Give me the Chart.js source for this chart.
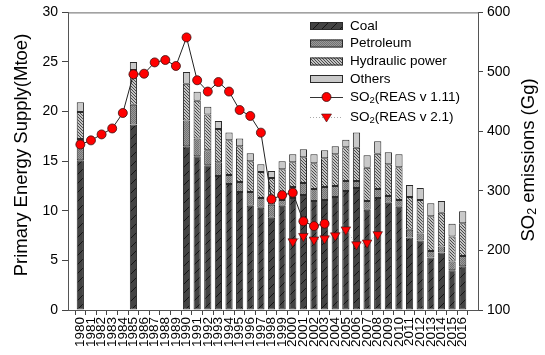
<!DOCTYPE html>
<html>
<head>
<meta charset="utf-8">
<script src="https://cdn.jsdelivr.net/npm/chart.js@4/dist/chart.umd.min.js"></script>
<style>
  html, body { margin: 0; padding: 0; background: #fff; }
  #wrap { width: 545px; height: 355px; }
</style>
</head>
<body>
<div id="wrap"><canvas id="c" width="545" height="355"></canvas></div>
<script>
// Primary energy supply by source (Mtoe) and SO2 emissions (Gg), 1980-2016
const years = [1980,1981,1982,1983,1984,1985,1986,1987,1988,1989,1990,1991,1992,1993,1994,1995,1996,1997,1998,1999,2000,2001,2002,2003,2004,2005,2006,2007,2008,2009,2010,2011,2012,2013,2014,2015,2016];

const coal      = [15.1,null,null,null,null,18.7,null,null,null,null,16.5,15.5,14.6,13.5,12.7,11.9,10.5,10.3,9.3,10.5,11.3,11.6,11.0,11.1,11.4,12.0,12.3,10.1,11.3,10.8,10.4,7.3,7.0,5.3,5.8,4.0,4.4];
const petroleum = [2.15,null,null,null,null,2.0,null,null,null,null,2.6,1.8,1.5,1.4,0.9,1.0,1.4,1.0,1.3,0.6,1.1,1.2,1.2,1.3,1.1,1.0,0.7,0.9,0.9,0.7,0.7,0.8,0.7,0.65,0.6,0.9,1.05];
const hydraulic = [2.7,null,null,null,null,3.5,null,null,null,null,3.7,3.8,3.6,3.35,3.5,3.6,3.1,2.6,2.7,3.1,2.5,2.6,2.6,2.9,3.2,3.4,3.35,3.35,3.55,3.2,3.3,3.3,3.4,3.5,3.4,2.5,3.3];
const others    = [1.0,null,null,null,null,0.8,null,null,null,null,1.2,0.9,0.8,0.8,0.8,0.8,0.8,0.8,0.7,0.8,0.8,0.8,0.9,0.8,0.8,0.75,1.55,1.25,1.25,1.2,1.3,1.2,1.2,1.3,1.2,1.3,1.2];

const so2Years111 = [1980,1981,1982,1983,1984,1985,1986,1987,1988,1989,1990,1991,1992,1993,1994,1995,1996,1997,1998,1999,2000,2001,2002,2003];
const so2Reas111  = [378,385,395,405,431,496,497,516,520,510,558,486,467,483,467,436,426,398,286,293,297,249,241,245];

const so2Years21 = [2000,2001,2002,2003,2004,2005,2006,2007,2008];
const so2Reas21  = [215,224,218,220,225,235,210,213,227];

const leftTicks  = [0,5,10,15,20,25,30];
const rightTicks = [100,200,300,400,500,600];

const FONT = '"Liberation Sans", Arial, sans-serif';

// ---- fill patterns for the energy sources ----
function makePattern(size, draw) {
  const cv = document.createElement('canvas');
  cv.width = size; cv.height = size;
  const g = cv.getContext('2d');
  draw(g, size);
  return g.createPattern(cv, 'repeat');
}
const ctxMain = document.getElementById('c').getContext('2d');
const coalFill = makePattern(9, (g, s) => {
  g.fillStyle = '#434343'; g.fillRect(0, 0, s, s);
  g.strokeStyle = '#141414'; g.lineWidth = 1;
  g.beginPath(); g.moveTo(0, s); g.lineTo(s, 0); g.stroke();
});
const petroFill = makePattern(2, (g, s) => {
  g.fillStyle = '#9a9a9a'; g.fillRect(0, 0, s, s);
  g.fillStyle = '#727272'; g.fillRect(0, 0, 1, 1); g.fillRect(1, 1, 1, 1);
});
const hydroFill = makePattern(3, (g, s) => {
  g.fillStyle = '#c4c4c4'; g.fillRect(0, 0, s, s);
  g.fillStyle = '#4a4a4a';
  for (let i = 0; i < s; i++) g.fillRect(i, i, 1, 1);
});
const othersFill = '#c9c9c9';

const toPoints = (xs, ys) => xs.map((x, i) => ({ x: x, y: ys[i] }));

function barSet(label, values, fill) {
  return {
    type: 'bar', label: label,
    data: toPoints(years, values),
    backgroundColor: fill,
    borderColor: '#2a2a2a', borderWidth: 1, borderSkipped: false,
    barPercentage: 0.68, categoryPercentage: 1,
    yAxisID: 'y', order: 2
  };
}

// ---- axis titles, top frame line and legend ----
const decorations = {
  id: 'decorations',
  afterDraw(chart) {
    const c = chart.ctx;
    const a = chart.chartArea;
    c.save();
    // frame line along the top
    c.strokeStyle = '#666'; c.lineWidth = 1;
    c.beginPath(); c.moveTo(a.left, a.top + 0.5); c.lineTo(a.right, a.top + 0.5); c.stroke();

    // left title
    c.fillStyle = '#000';
    c.font = '18.5px ' + FONT;
    c.textAlign = 'center'; c.textBaseline = 'middle';
    c.save(); c.translate(22, 155); c.rotate(-Math.PI / 2);
    c.fillText('Primary Energy Supply(Mtoe)', 0, 0);
    c.restore();

    // right title with subscript
    c.save(); c.translate(529, 160); c.rotate(-Math.PI / 2);
    drawSub(c, 'SO', '2', ' emissions (Gg)', 18.5, 12.5, 4, 'center');
    c.restore();

    // legend
    const sx = 310, sw = 33, tx = 350;
    const rows = [
      { y: 26, kind: 'box', fill: coalFill, text: 'Coal' },
      { y: 43.5, kind: 'box', fill: petroFill, text: 'Petroleum' },
      { y: 61.5, kind: 'box', fill: hydroFill, text: 'Hydraulic power' },
      { y: 79, kind: 'box', fill: othersFill, text: 'Others' },
      { y: 97, kind: 'circle', ver: '(REAS v 1.11)' },
      { y: 117, kind: 'tri', ver: '(REAS v 2.1)' }
    ];
    c.textAlign = 'left'; c.textBaseline = 'middle';
    rows.forEach(r => {
      if (r.kind === 'box') {
        c.fillStyle = r.fill;
        c.fillRect(sx, r.y - 4, sw, 8);
        c.strokeStyle = '#2a2a2a'; c.lineWidth = 1;
        c.strokeRect(sx + 0.5, r.y - 3.5, sw - 1, 7);
        c.fillStyle = '#000';
        c.font = '13.5px ' + FONT;
        c.fillText(r.text, tx, r.y);
      } else if (r.kind === 'circle') {
        c.strokeStyle = '#333'; c.lineWidth = 1;
        c.beginPath(); c.moveTo(sx, r.y + 0.5); c.lineTo(sx + sw, r.y + 0.5); c.stroke();
        c.fillStyle = '#ff0000'; c.strokeStyle = '#3a1010'; c.lineWidth = 0.8;
        c.beginPath(); c.arc(sx + sw / 2, r.y, 4.5, 0, Math.PI * 2); c.fill(); c.stroke();
        c.fillStyle = '#000';
        drawSub(c, 'SO', '2', r.ver, 13.5, 9.5, 3, 'left', tx, r.y);
      } else {
        c.strokeStyle = '#aaa'; c.lineWidth = 1; c.setLineDash([1, 2]);
        c.beginPath(); c.moveTo(sx, r.y + 0.5); c.lineTo(sx + sw, r.y + 0.5); c.stroke();
        c.setLineDash([]);
        const cx = sx + sw / 2, cy = r.y;
        c.fillStyle = '#ff0000'; c.strokeStyle = '#3a1010'; c.lineWidth = 0.6;
        c.beginPath(); c.moveTo(cx - 5, cy - 3); c.lineTo(cx + 5, cy - 3); c.lineTo(cx, cy + 5); c.closePath();
        c.fill(); c.stroke();
        c.fillStyle = '#000';
        drawSub(c, 'SO', '2', r.ver, 13.5, 9.5, 3, 'left', tx, r.y);
      }
    });
    c.restore();
  }
};

// text with a subscript part
function drawSub(c, a, sub, b, size, subSize, drop, align, x0, y0) {
  x0 = x0 || 0; y0 = y0 || 0;
  c.font = size + 'px ' + FONT;
  const wa = c.measureText(a).width, wb = c.measureText(b).width;
  c.font = subSize + 'px ' + FONT;
  const ws = c.measureText(sub).width;
  const total = wa + ws + wb;
  let x = align === 'center' ? x0 - total / 2 : x0;
  c.textAlign = 'left'; c.textBaseline = 'middle';
  c.font = size + 'px ' + FONT; c.fillText(a, x, y0); x += wa;
  c.font = subSize + 'px ' + FONT; c.fillText(sub, x, y0 + drop); x += ws;
  c.font = size + 'px ' + FONT; c.fillText(b, x, y0);
}

new Chart(ctxMain, {
  data: {
    datasets: [
      barSet('Coal', coal, coalFill),
      barSet('Petroleum', petroleum, petroFill),
      barSet('Hydraulic power', hydraulic, hydroFill),
      barSet('Others', others, othersFill),
      {
        type: 'line', label: 'SO2(REAS v 1.11)',
        data: toPoints(so2Years111, so2Reas111),
        borderColor: '#222', borderWidth: 1,
        pointRadius: 4.5, pointBackgroundColor: '#ff0000',
        pointBorderColor: '#3a1010', pointBorderWidth: 0.8,
        yAxisID: 'y2', order: 0
      },
      {
        type: 'line', label: 'SO2(REAS v 2.1)',
        data: toPoints(so2Years21, so2Reas21),
        borderColor: '#aaa', borderWidth: 1, borderDash: [1, 2],
        pointStyle: 'triangle', rotation: 180,
        pointRadius: 5.5, pointBackgroundColor: '#ff0000',
        pointBorderColor: '#3a1010', pointBorderWidth: 0.6,
        yAxisID: 'y2', order: 1
      }
    ]
  },
  options: {
    responsive: false,
    animation: false,
    layout: { padding: { top: 11, left: 0, right: 0, bottom: 0 } },
    plugins: { legend: { display: false }, tooltip: { enabled: false }, title: { display: false } },
    scales: {
      x: {
        type: 'linear', stacked: true,
        min: 1979.36, max: 2016.92,
        afterBuildTicks: s => { s.ticks = years.map(v => ({ value: v })); },
        afterFit: s => { s.height = 45; },
        grid: { display: true, drawOnChartArea: false, drawTicks: true, tickLength: 5, color: '#444' },
        border: { display: true, color: '#555', width: 1 },
        ticks: {
          autoSkip: false, minRotation: 90, maxRotation: 90,
          padding: 2, color: '#000',
          font: { family: FONT, size: 13.5 },
          callback: v => String(v)
        }
      },
      y: {
        position: 'left', stacked: true,
        min: 0, max: 30,
        afterBuildTicks: s => { s.ticks = leftTicks.map(v => ({ value: v })); },
        afterFit: s => { s.width = 68; },
        grid: { display: true, drawOnChartArea: false, drawTicks: true, tickLength: 6, color: '#444' },
        border: { display: true, color: '#555', width: 1 },
        ticks: { padding: 4, color: '#000', font: { family: FONT, size: 14 } }
      },
      y2: {
        position: 'right', stacked: false,
        min: 100, max: 600,
        afterBuildTicks: s => { s.ticks = rightTicks.map(v => ({ value: v })); },
        afterFit: s => { s.width = 67; },
        grid: { display: true, drawOnChartArea: false, drawTicks: true, tickLength: 5, color: '#444' },
        border: { display: true, color: '#555', width: 1 },
        ticks: { padding: 4, color: '#000', font: { family: FONT, size: 14 } }
      }
    }
  },
  plugins: [decorations]
});
</script>
</body>
</html>
